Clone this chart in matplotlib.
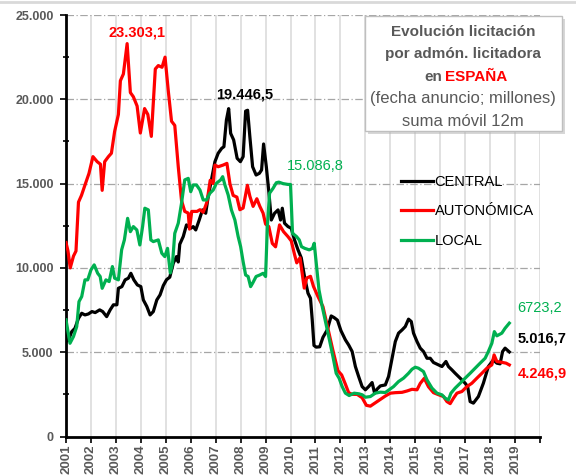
import matplotlib.pyplot as plt
from matplotlib.patches import Rectangle
from matplotlib.ticker import FuncFormatter, MultipleLocator
from matplotlib.lines import Line2D

plt.rcParams['font.family'] = ['Liberation Sans', 'DejaVu Sans']

# series (decimal year, millions of euros)
t_central = [2001.00, 2001.10, 2001.23, 2001.36, 2001.50, 2001.63, 2001.76, 2001.90, 2002.04, 2002.17,
             2002.35, 2002.47, 2002.63, 2002.77, 2002.90, 2003.04, 2003.10, 2003.24, 2003.37, 2003.50,
             2003.60, 2003.72, 2003.86, 2004.00, 2004.10, 2004.24, 2004.37, 2004.50, 2004.64, 2004.77,
             2004.90, 2005.03, 2005.16, 2005.30, 2005.43, 2005.50, 2005.56, 2005.70, 2005.83, 2006.00,
             2006.10, 2006.20, 2006.34, 2006.47, 2006.60, 2006.70, 2006.83, 2006.97, 2007.10, 2007.24,
             2007.33, 2007.43, 2007.52, 2007.60, 2007.72, 2007.86, 2007.99, 2008.10, 2008.20, 2008.28,
             2008.37, 2008.48, 2008.62, 2008.75, 2008.84, 2008.92, 2009.03, 2009.13, 2009.23, 2009.36,
             2009.50, 2009.60, 2009.67, 2009.76, 2009.90, 2010.03, 2010.16, 2010.30, 2010.43, 2010.56,
             2010.70, 2010.80, 2010.87, 2010.94, 2011.03, 2011.17, 2011.30, 2011.47, 2011.63, 2011.75,
             2011.88, 2012.02, 2012.20, 2012.33, 2012.47, 2012.60, 2012.73, 2012.87, 2013.00, 2013.13,
             2013.27, 2013.37, 2013.47, 2013.60, 2013.80, 2013.93, 2014.07, 2014.20, 2014.33, 2014.47,
             2014.60, 2014.73, 2014.84, 2014.93, 2015.07, 2015.20, 2015.33, 2015.47, 2015.60, 2015.73,
             2015.93, 2016.07, 2016.23, 2016.33, 2016.47, 2016.60, 2016.80, 2017.00, 2017.10, 2017.20,
             2017.33, 2017.53, 2017.73, 2017.93, 2018.13, 2018.27, 2018.40, 2018.50, 2018.60, 2018.77]
central = [5630, 5730, 6220, 6420, 7010, 7310, 7210, 7270, 7410, 7350,
           7510, 7410, 7110, 7510, 7810, 7810, 8790, 8890, 9290, 9390,
           9680, 9290, 8990, 8890, 8100, 7710, 7210, 7410, 8100, 8400,
           8950, 9300, 9450, 10280, 10670, 10350, 11400, 11860, 12550, 12350,
           12450, 12250, 12840, 13440, 13240, 14230, 15220, 16300, 16800, 17090,
           17190, 18770, 19446.5, 17980, 17590, 16500, 16300, 16600, 19300, 19350,
           17780, 16000, 15510, 15610, 15810, 17350, 16000, 14520, 12840, 13240,
           13440, 12840, 13540, 12650, 12450, 12350, 11660, 11070, 10600, 9490,
           8500, 8200, 6920, 5400, 5300, 5320, 5880, 6320, 7150, 7050,
           6900, 6280, 5730, 5430, 5040, 4150, 3560, 2960, 2770, 2960,
           3200, 2570, 2810, 3000, 3060, 3560, 4640, 5630, 6130, 6320,
           6520, 6960, 6820, 6130, 5630, 5240, 5040, 4640, 4640, 4390,
           4250, 4150, 4450, 4150, 3950, 3750, 3460, 3160, 2960, 2070,
           1980, 2370, 3160, 4150, 4540, 4350, 4310, 5040, 5240, 5016.7]

t_autonomica = [2001.00, 2001.08, 2001.17, 2001.30, 2001.40, 2001.50, 2001.62, 2001.78, 2001.92, 2002.08,
                2002.25, 2002.38, 2002.45, 2002.55, 2002.70, 2002.82, 2002.95, 2003.10, 2003.18, 2003.30,
                2003.45, 2003.58, 2003.70, 2003.85, 2003.98, 2004.15, 2004.28, 2004.42, 2004.58, 2004.70,
                2004.85, 2004.97, 2005.10, 2005.23, 2005.36, 2005.50, 2005.63, 2005.76, 2005.90, 2005.95,
                2006.04, 2006.25, 2006.37, 2006.50, 2006.65, 2006.78, 2006.90, 2006.97, 2007.10, 2007.30,
                2007.45, 2007.57, 2007.70, 2007.85, 2007.97, 2008.10, 2008.27, 2008.37, 2008.50, 2008.65,
                2008.77, 2008.90, 2009.00, 2009.13, 2009.27, 2009.40, 2009.56, 2009.72, 2009.90, 2010.03,
                2010.16, 2010.25, 2010.38, 2010.55, 2010.65, 2010.80, 2010.92, 2011.10, 2011.30, 2011.50,
                2011.70, 2011.90, 2012.05, 2012.20, 2012.33, 2012.47, 2012.67, 2012.87, 2013.04, 2013.20,
                2013.40, 2013.60, 2013.80, 2014.00, 2014.20, 2014.47, 2014.67, 2014.87, 2015.07, 2015.20,
                2015.36, 2015.53, 2015.73, 2015.93, 2016.13, 2016.27, 2016.40, 2016.53, 2016.67, 2016.87,
                2017.07, 2017.27, 2017.47, 2017.67, 2017.87, 2018.07, 2018.16, 2018.27, 2018.47, 2018.64,
                2018.77]
autonomica = [11500, 11000, 10000, 10700, 11000, 13900, 14300, 15000, 15600, 16600,
              16300, 16150, 14600, 16300, 16600, 16800, 18100, 19100, 21100, 21500,
              23303.1, 20400, 20150, 19600, 18000, 19450, 19100, 17800, 21800, 22000,
              21900, 22500, 20500, 18700, 18450, 16000, 14000, 13350, 13250, 12300,
              13350, 13350, 13450, 13300, 13900, 15200, 15000, 16100, 16000, 16100,
              16200, 15000, 14300, 14200, 13450, 13550, 14900, 14250, 13650, 14100,
              13650, 13250, 12600, 12450, 11450, 11250, 12550, 12150, 11850, 11600,
              10800, 10300, 10600, 8800, 9400, 9500, 8900, 8300, 7700, 6400,
              5100, 3900, 3650, 3100, 2600, 2500, 2500, 2300, 1850, 1800,
              2000, 2200, 2400, 2570, 2600, 2620, 2700, 2800, 2770, 3150,
              3450, 2950, 2600, 2480, 2370, 2070, 1950, 2270, 2570, 2670,
              2960, 3160, 3460, 3750, 4050, 4250, 4840, 4450, 4400, 4350,
              4246.9]

t_local = [2001.00, 2001.16, 2001.30, 2001.43, 2001.52, 2001.63, 2001.76, 2001.87, 2002.00, 2002.13,
           2002.27, 2002.37, 2002.45, 2002.60, 2002.73, 2002.86, 2002.95, 2003.10, 2003.23, 2003.34,
           2003.47, 2003.58, 2003.70, 2003.84, 2003.96, 2004.07, 2004.16, 2004.30, 2004.40, 2004.50,
           2004.70, 2004.84, 2004.96, 2005.07, 2005.18, 2005.27, 2005.36, 2005.50, 2005.63, 2005.76,
           2005.90, 2006.00, 2006.10, 2006.23, 2006.37, 2006.50, 2006.63, 2006.77, 2006.90, 2007.03,
           2007.20, 2007.28, 2007.37, 2007.50, 2007.63, 2007.77, 2007.90, 2008.00, 2008.10, 2008.20,
           2008.30, 2008.40, 2008.48, 2008.62, 2008.77, 2008.90, 2009.00, 2009.07, 2009.16, 2009.30,
           2009.43, 2009.53, 2009.70, 2009.90, 2010.00, 2010.08, 2010.24, 2010.35, 2010.44, 2010.57,
           2010.75, 2010.88, 2010.95, 2011.03, 2011.14, 2011.27, 2011.43, 2011.56, 2011.70, 2011.83,
           2011.95, 2012.07, 2012.20, 2012.35, 2012.55, 2012.75, 2012.88, 2013.00, 2013.20, 2013.40,
           2013.60, 2013.80, 2014.13, 2014.33, 2014.53, 2014.73, 2014.87, 2015.00, 2015.13, 2015.33,
           2015.47, 2015.67, 2015.87, 2016.07, 2016.20, 2016.33, 2016.43, 2016.60, 2016.80, 2017.00,
           2017.20, 2017.40, 2017.60, 2017.80, 2017.93, 2018.07, 2018.17, 2018.27, 2018.47, 2018.60,
           2018.77]
local = [6920, 5530, 5930, 6520, 8000, 8300, 9290, 9290, 9880, 10180,
         9680, 9490, 8790, 9290, 9190, 10080, 9390, 9290, 11070, 11660,
         12940, 12150, 12450, 12250, 11360, 12450, 13540, 13440, 11660, 11560,
         11660, 10870, 10670, 11160, 9700, 10280, 12050, 12650, 13830, 15220,
         15310, 14520, 14920, 14920, 14620, 14030, 14030, 14430, 14620, 15020,
         15220, 15410, 14920, 14330, 13440, 12840, 11860, 11260, 10370, 9580,
         9490, 8890, 9090, 9490, 9580, 9680, 9490, 12450, 14430, 14720,
         15050, 15086.8, 15000, 14950, 14950, 12050, 11860, 11660, 11260, 11160,
         11070, 11160, 11460, 10280, 8700, 7710, 6620, 5730, 4740, 3750,
         3450, 2960, 2570, 2430, 2570, 2530, 2470, 2330, 2370, 2570,
         2630, 2610, 2960, 3260, 3460, 3750, 3990, 4110, 4050, 3850,
         3360, 2870, 2570, 2470, 2270, 2170, 2570, 2870, 3160, 3460,
         3750, 4050, 4350, 4640, 5040, 5530, 6220, 5970, 6130, 6420,
         6723.2]

years = list(range(2001, 2021))
year_labels = [str(y) for y in range(2001, 2020)] + [""]

GRAY = "#595959"
GREEN = "#00B050"
RED = "#FF0000"

fig = plt.figure(figsize=(5.76, 4.76), dpi=100)
ax = fig.add_axes([66 / 576, 1 - 436.5 / 476, 474 / 576, 421.5 / 476])


def fx(px):
    return px / 576


def fy(py):
    return 1 - py / 476


# grid
for y in years[1:]:
    ax.axvline(y, color="#D9D9D9", lw=1.1, zorder=0)
for v in range(5000, 25001, 5000):
    ax.axhline(v, color="#A6A6A6", lw=0.9, ls=(0, (6, 2, 1, 2)), zorder=0.5)

ax.plot(t_central, central, color="black", lw=2.3, label="CENTRAL", zorder=3)
ax.plot(t_autonomica, autonomica, color=RED, lw=2.3, label="AUTONÓMICA", zorder=4)
ax.plot(t_local, local, color=GREEN, lw=2.3, label="LOCAL", zorder=5)

ax.set_xlim(2001, 2020)
ax.set_ylim(0, 25000)
ax.set_xticks(years)
ax.set_xticklabels(year_labels, rotation=90)
ax.yaxis.set_major_locator(MultipleLocator(5000))
ax.yaxis.set_minor_locator(MultipleLocator(2500))
ax.yaxis.set_major_formatter(FuncFormatter(lambda v, p: f"{int(v):,}".replace(",", ".")))

for s in ["top", "right"]:
    ax.spines[s].set_visible(False)
for s in ["left", "bottom"]:
    ax.spines[s].set_linewidth(2)
ax.tick_params(axis="y", which="major", length=4, width=1.2, pad=5, labelsize=9, labelcolor=GRAY)
ax.tick_params(axis="y", which="minor", length=4, width=1.2, direction="inout")
ax.tick_params(axis="x", which="major", length=4, width=1.2, pad=2, labelsize=9.5, labelcolor=GRAY)
for lab in ax.get_xticklabels() + ax.get_yticklabels():
    lab.set_fontweight("bold")

# value labels
ax.text(2003.85, 23960, "23.303,1", color=RED, fontsize=10.5, fontweight="bold", ha="center", va="center")
ax.text(2008.18, 20280, "19.446,5", color="black", fontsize=10.5, fontweight="bold", ha="center", va="center")
ax.text(2010.98, 16030, "15.086,8", color=GREEN, fontsize=10.5, ha="center", va="center")
ax.text(2019.08, 7630, "6723,2", color=GREEN, fontsize=10.5, ha="left", va="center", clip_on=False)
ax.text(2019.12, 5790, "5.016,7", color="black", fontsize=10.5, fontweight="bold", ha="left", va="center", clip_on=False)
ax.text(2019.12, 3720, "4.246,9", color=RED, fontsize=10.5, fontweight="bold", ha="left", va="center", clip_on=False)

ax.legend(loc="upper left", bbox_to_anchor=(fx(388), fy(162)), bbox_transform=fig.transFigure,
          frameon=False, fontsize=10.5, handlelength=2.2, handletextpad=0.1, labelspacing=1.05,
          borderpad=0.4)

# title box with shadow
fig.patches.append(Rectangle((fx(368), fy(134)), fx(197), 115 / 476, transform=fig.transFigure,
                             facecolor="#B0B0B0", edgecolor="none", alpha=0.5, zorder=9))
fig.patches.append(Rectangle((fx(365), fy(131)), fx(197), 115 / 476, transform=fig.transFigure,
                             facecolor="white", edgecolor="#BFBFBF", lw=1, zorder=10))
fig.text(fx(463), fy(32), "Evolución licitación", color=GRAY, fontsize=11, fontweight="bold",
         ha="center", va="center", zorder=11)
fig.text(fx(463), fy(54), "por admón. licitadora", color=GRAY, fontsize=11, fontweight="bold",
         ha="center", va="center", zorder=11)
fig.text(fx(442), fy(77), "en", color=GRAY, fontsize=11, fontweight="bold", ha="right", va="center", zorder=11)
fig.text(fx(445), fy(77), "ESPAÑA", color=RED, fontsize=11, fontweight="bold", ha="left", va="center", zorder=11)
fig.text(fx(463), fy(99), "(fecha anuncio; millones)", color=GRAY, fontsize=12, ha="center", va="center", zorder=11)
fig.text(fx(463), fy(121), "suma móvil 12m", color=GRAY, fontsize=12, ha="center", va="center", zorder=11)

# thin frame line at the top of the picture
fig.add_artist(Line2D([0, 1], [fy(1.5), fy(1.5)], transform=fig.transFigure, color="#D9D9D9", lw=2))

fig.savefig("out.png", dpi=100)
